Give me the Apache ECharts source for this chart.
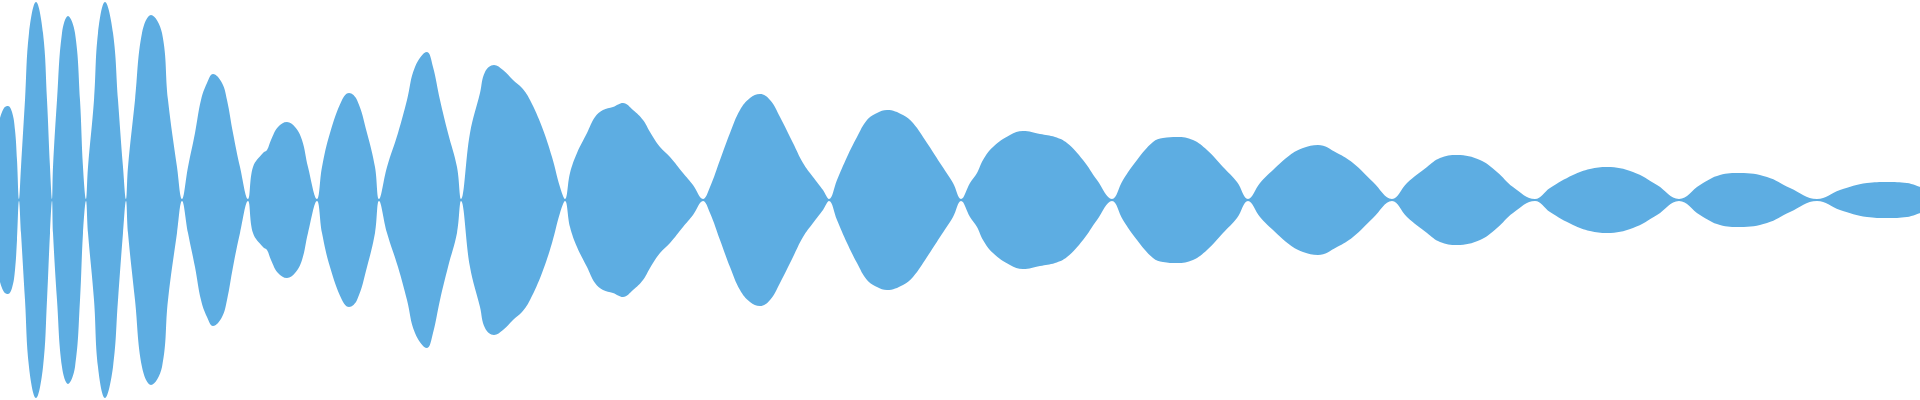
<!DOCTYPE html>
<html>
<head>
<meta charset="utf-8">
<script src="https://cdn.jsdelivr.net/npm/echarts@6/dist/echarts.min.js"></script>
<style>html,body{margin:0;padding:0;background:#fff;}#c{width:1920px;height:400px;}</style>
</head>
<body>
<div id="c"></div>
<script>
// sample positions (x) and envelope amplitude
const samplePos = [
  0,4,8,12,15,17,19,
  21,25,29,36,43,47,50,52,
  53,57,62,68,75,80,83,86,
  88,94,98,105,113,118,123,126,
  128,135,142,151,162,168,177,182,
  188,195,201,207,213,222,227,233,240,248,
  253,263,267,271,278,287,295,302,308,317,
  322,330,342,349,357,367,375,379,
  387,398,407,415,427,433,440,448,457,461,
  470,480,485,494,503,513,522,530,542,552,560,565,
  570,577,587,595,603,613,623,633,643,650,660,670,683,693,703,
  710,720,730,740,750,760,770,780,793,803,813,823,829,
  837,847,857,867,877,887,903,913,927,940,953,961,
  970,977,983,993,1010,1023,1040,1055,1067,1083,1097,1112,
  1123,1137,1153,1163,1177,1193,1207,1223,1237,1248,
  1260,1273,1290,1303,1318,1337,1353,1373,1392,
  1407,1427,1440,1457,1480,1497,1513,1535,
  1550,1573,1590,1607,1633,1657,1679,
  1700,1720,1740,1767,1790,1817,
  1840,1867,1887,1907,1920
];
const envelope = [
  82,92,94,88,70,40,1,
  33,100,167,198,167,100,33,1,
  33,100,167,184,167,100,33,1,
  33,100,167,198,167,100,33,1,
  33,100,167,185,167,100,33,1,
  33,67,100,117,126,117,100,67,33,1,
  33,47,50,60,73,78,73,60,33,1,
  33,67,100,107,100,67,33,1,
  33,67,100,133,148,133,100,67,33,1,
  67,107,128,135,130,120,112,100,73,43,13,1,
  27,47,67,83,90,93,97,90,80,68,53,43,27,15,1,
  13,40,67,90,102,106,100,83,57,37,23,10,1,
  20,43,63,80,87,90,85,77,57,37,17,1,
  17,27,40,53,65,69,66,63,57,40,20,1,
  20,40,58,62,63,60,50,33,18,1,
  17,30,45,52,55,47,37,18,1,
  17,33,42,45,40,28,13,1,
  12,25,31,33,28,15,1,
  15,25,27,23,12,1,
  10,17,18,17,13
];

const upper = samplePos.map((x, i) => [x, envelope[i]]);
const lower = samplePos.map((x, i) => [x, -envelope[i]]);

const fill = '#5dade2';
const chart = echarts.init(document.getElementById('c'));
chart.setOption({
  animation: false,
  grid: { left: 0, right: 0, top: 0, bottom: 0 },
  xAxis: { type: 'value', min: 0, max: 1920, show: false },
  yAxis: { type: 'value', min: -200, max: 200, show: false },
  series: [
    { type: 'line', data: upper, smooth: 0.4, symbol: 'none',
      lineStyle: { width: 0 }, areaStyle: { color: fill, opacity: 1 } },
    { type: 'line', data: lower, smooth: 0.4, symbol: 'none',
      lineStyle: { width: 0 }, areaStyle: { color: fill, opacity: 1 } }
  ]
});
</script>
</body>
</html>
